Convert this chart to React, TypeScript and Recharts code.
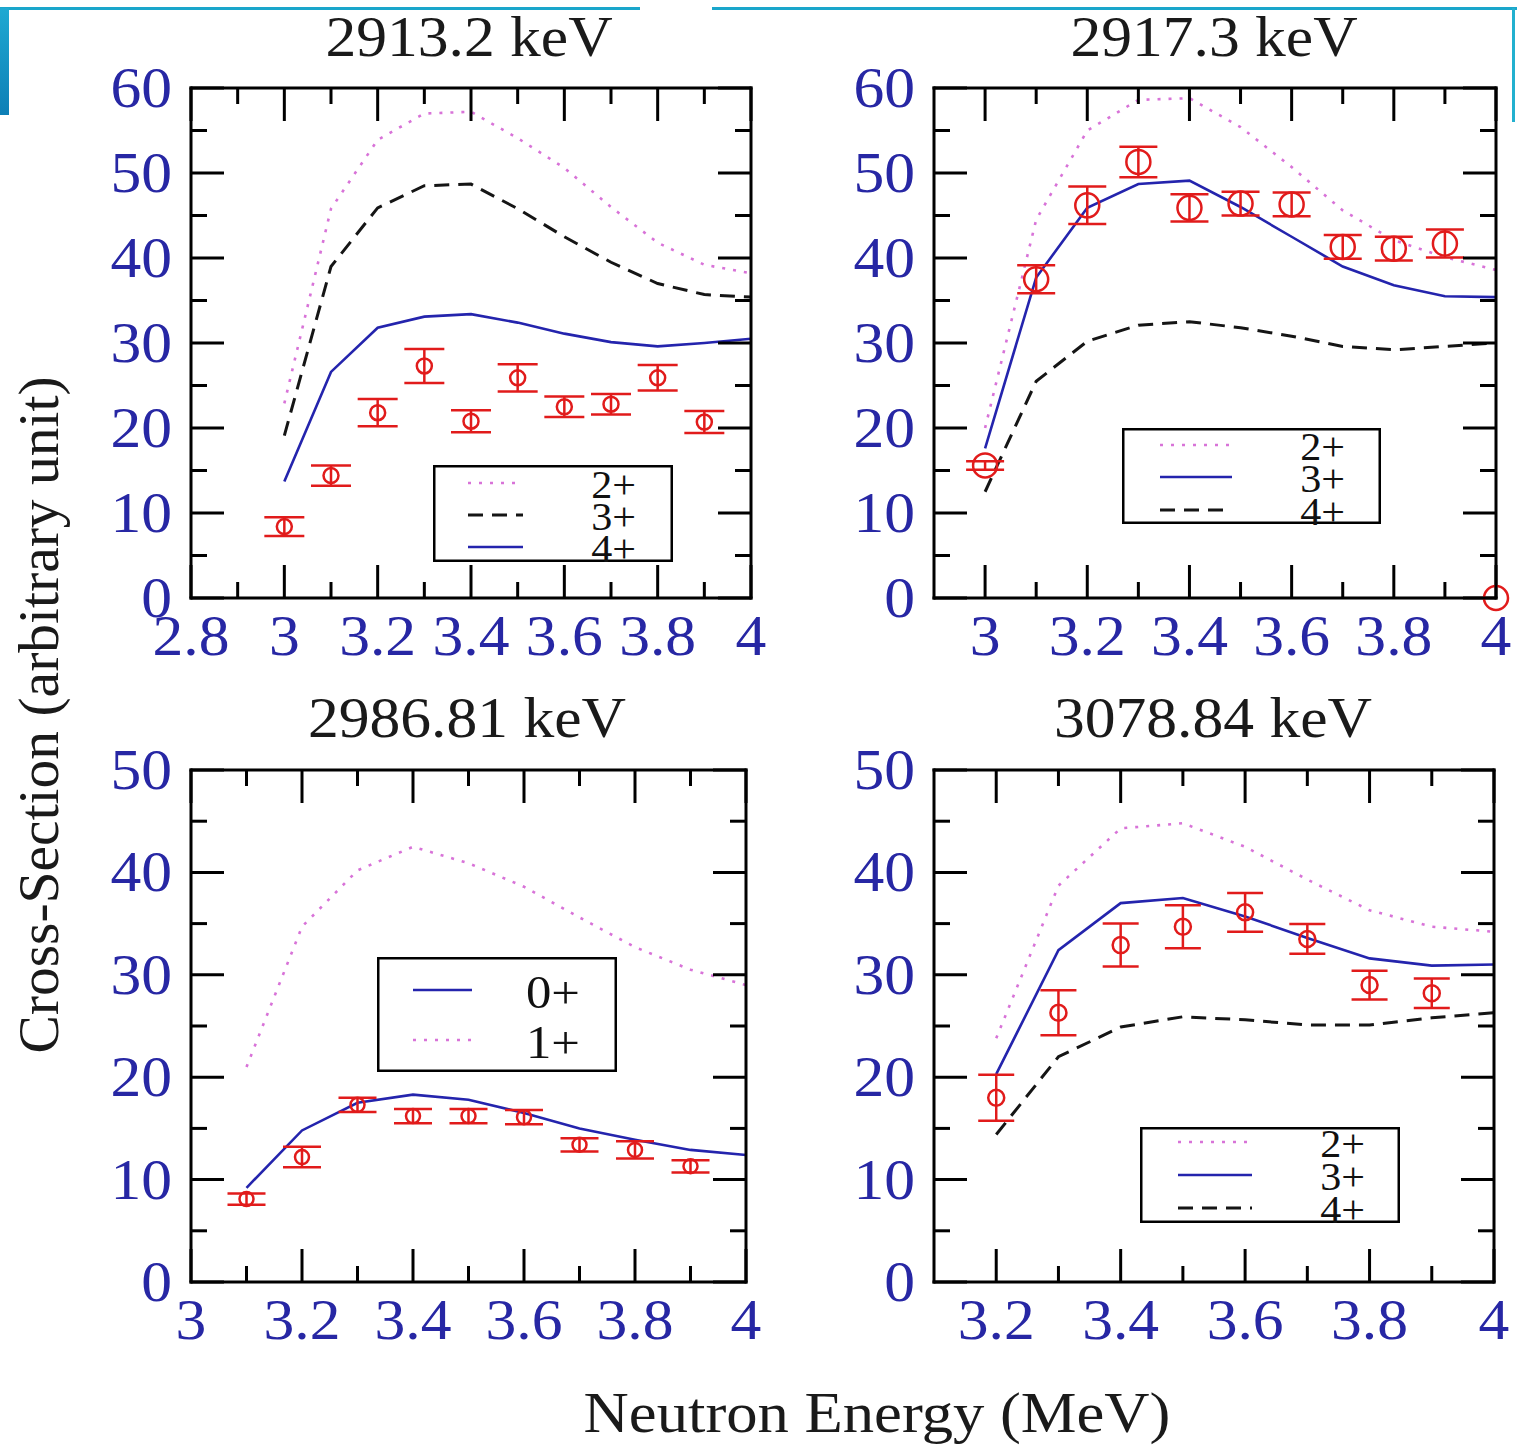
import React from 'react';
import { ComposedChart, Line, Scatter, XAxis, YAxis, ErrorBar, Legend } from 'recharts';

const FONT = '"Liberation Serif", "Times New Roman", serif';
const TICK_BLUE = '#2727a4';
const RED = '#e11b1b';
const PINK = '#d873d8';
const LINE_BLUE = '#2424ad';
const DASH_BLACK = '#151515';

// ---------- Panel 1 : 2913.2 keV ----------
const P1_X = [3.0, 3.1, 3.2, 3.3, 3.4, 3.5, 3.6, 3.7, 3.8, 3.9, 4.0];
const P1_2PLUS = [22.9, 45.8, 53.9, 57.0, 57.2, 54.1, 50.6, 46.0, 41.8, 39.2, 38.2];
const P1_3PLUS = [19.1, 39.0, 45.9, 48.5, 48.7, 45.8, 42.5, 39.5, 37.0, 35.7, 35.4];
const P1_4PLUS = [13.7, 26.6, 31.8, 33.1, 33.4, 32.4, 31.1, 30.1, 29.6, 30.0, 30.5];
const P1_EXP_X = [3.0, 3.1, 3.2, 3.3, 3.4, 3.5, 3.6, 3.7, 3.8, 3.9];
const P1_EXP_Y = [8.4, 14.4, 21.8, 27.3, 20.8, 25.9, 22.5, 22.8, 25.9, 20.7];
const P1_EXP_ERR = [1.1, 1.2, 1.6, 2.0, 1.3, 1.6, 1.2, 1.2, 1.5, 1.3];

// ---------- Panel 2 : 2917.3 keV ----------
const P2_X = [3.0, 3.1, 3.2, 3.3, 3.4, 3.5, 3.6, 3.7, 3.8, 3.9, 4.0];
const P2_2PLUS = [20.0, 44.5, 55.0, 58.6, 58.8, 55.4, 50.7, 45.6, 42.1, 40.1, 38.6];
const P2_3PLUS = [17.6, 37.7, 45.9, 48.7, 49.1, 46.0, 42.5, 39.0, 36.8, 35.5, 35.4];
const P2_4PLUS = [12.5, 25.5, 30.2, 32.1, 32.5, 31.8, 30.8, 29.6, 29.2, 29.6, 30.0];
const P2_EXP_X = [3.0, 3.1, 3.2, 3.3, 3.4, 3.5, 3.6, 3.7, 3.8, 3.9];
const P2_EXP_Y = [15.6, 37.5, 46.2, 51.3, 45.9, 46.4, 46.3, 41.3, 41.1, 41.7];
const P2_EXP_ERR = [0.5, 1.65, 2.2, 1.8, 1.6, 1.4, 1.4, 1.4, 1.4, 1.65];
const P2_EXTRA_X = [4.0];
const P2_EXTRA_Y = [0];

// ---------- Panel 3 : 2986.81 keV ----------
const P3_X = [3.1, 3.2, 3.3, 3.4, 3.5, 3.6, 3.7, 3.8, 3.9, 4.0];
const P3_0PLUS = [9.2, 14.8, 17.5, 18.3, 17.8, 16.5, 15.0, 13.9, 12.9, 12.4];
const P3_1PLUS = [21.0, 34.7, 40.2, 42.5, 40.9, 38.6, 35.6, 32.7, 30.5, 29.0];
const P3_EXP_X = [3.1, 3.2, 3.3, 3.4, 3.5, 3.6, 3.7, 3.8, 3.9];
const P3_EXP_Y = [8.1, 12.2, 17.3, 16.2, 16.2, 16.1, 13.4, 12.9, 11.3];
const P3_EXP_ERR = [0.55, 1.0, 0.7, 0.7, 0.7, 0.7, 0.65, 0.85, 0.6];

// ---------- Panel 4 : 3078.84 keV ----------
const P4_X = [3.2, 3.3, 3.4, 3.5, 3.6, 3.7, 3.8, 3.9, 4.0];
const P4_2PLUS = [23.8, 38.7, 44.3, 44.8, 42.5, 39.3, 36.3, 34.7, 34.2];
const P4_3PLUS = [20.3, 32.4, 37.0, 37.5, 35.7, 33.6, 31.6, 30.9, 31.0];
const P4_4PLUS = [14.4, 22.0, 24.9, 25.9, 25.6, 25.1, 25.1, 25.8, 26.3];
const P4_EXP_X = [3.2, 3.3, 3.4, 3.5, 3.6, 3.7, 3.8, 3.9];
const P4_EXP_Y = [18.0, 26.3, 32.9, 34.7, 36.1, 33.5, 29.0, 28.2];
const P4_EXP_ERR = [2.25, 2.2, 2.1, 2.1, 1.9, 1.45, 1.4, 1.45];

// ---------- ticks / labels ----------
const X_TICKS_P1 = [2.8, 2.9, 3.0, 3.1, 3.2, 3.3, 3.4, 3.5, 3.6, 3.7, 3.8, 3.9, 4.0];
const X_TICKS_P2 = [3.0, 3.1, 3.2, 3.3, 3.4, 3.5, 3.6, 3.7, 3.8, 3.9, 4.0];
const X_TICKS_P3 = [3.0, 3.1, 3.2, 3.3, 3.4, 3.5, 3.6, 3.7, 3.8, 3.9, 4.0];
const X_TICKS_P4 = [3.2, 3.3, 3.4, 3.5, 3.6, 3.7, 3.8, 3.9, 4.0];
const Y_TICKS_60 = [0, 5, 10, 15, 20, 25, 30, 35, 40, 45, 50, 55, 60];
const Y_TICKS_50 = [0, 5, 10, 15, 20, 25, 30, 35, 40, 45, 50];

const TITLES = ['2913.2 keV', '2917.3 keV', '2986.81 keV', '3078.84 keV'];
const X_LABEL = 'Neutron Energy (MeV)';
const Y_LABEL = 'Cross-Section (arbitrary unit)';

// ---------- styles ----------
const LINE_STYLES: Record<string, any> = {
  dot: { stroke: PINK, strokeWidth: 2.6, strokeDasharray: '3 8' },
  dash: { stroke: DASH_BLACK, strokeWidth: 3, strokeDasharray: '15 9' },
  solid: { stroke: LINE_BLUE, strokeWidth: 2.6 },
};
const MAJOR = 33;
const MINOR = 16;
const TICK_FS = 57;
const SX = 1.08;
const AXIS_LINE = { stroke: '#000', strokeWidth: 3, strokeLinecap: 'square' };

const fmt = (v: number) => String(Math.round(v * 10) / 10);
const isMajorX = (v: number) => Math.round(v * 10) % 2 === 0;
const isMajorY = (v: number) => Math.round(v) % 10 === 0;

const makeTick = (side: 'bottom' | 'top' | 'left' | 'right') => (props: any) => {
  const { x, y, payload } = props;
  const v = payload.value as number;
  const major = side === 'bottom' || side === 'top' ? isMajorX(v) : isMajorY(v);
  const len = major ? MAJOR : MINOR;
  let line;
  if (side === 'bottom') line = <line x1={x} y1={y} x2={x} y2={y - len} stroke="#000" strokeWidth={3} />;
  else if (side === 'top') line = <line x1={x} y1={y} x2={x} y2={y + len} stroke="#000" strokeWidth={3} />;
  else if (side === 'left') line = <line x1={x} y1={y} x2={x + len} y2={y} stroke="#000" strokeWidth={3} />;
  else line = <line x1={x} y1={y} x2={x - len} y2={y} stroke="#000" strokeWidth={3} />;
  let label = null;
  if (major && side === 'bottom') {
    label = (
      <text transform={`translate(${x},${y + 57}) scale(${SX},1)`} textAnchor="middle" fontFamily={FONT} fontSize={TICK_FS} fill={TICK_BLUE}>
        {fmt(v)}
      </text>
    );
  } else if (major && side === 'left') {
    label = (
      <text transform={`translate(${x - 19},${y + 19}) scale(${SX},1)`} textAnchor="end" fontFamily={FONT} fontSize={TICK_FS} fill={TICK_BLUE}>
        {fmt(v)}
      </text>
    );
  }
  return (
    <g>
      {line}
      {label}
    </g>
  );
};

const BottomTick = makeTick('bottom');
const TopTick = makeTick('top');
const LeftTick = makeTick('left');
const RightTick = makeTick('right');

type Series = { key: string; label: string; values: number[]; style: string };

const PANELS = [
  {
    title: TITLES[0],
    plot: { x: 191, y: 88, w: 560, h: 510 },
    xDomain: [2.8, 4],
    xTicks: X_TICKS_P1,
    yDomain: [0, 60],
    yTicks: Y_TICKS_60,
    lineX: P1_X,
    series: [
      { key: 's2', label: '2+', values: P1_2PLUS, style: 'dot' },
      { key: 's3', label: '3+', values: P1_3PLUS, style: 'dash' },
      { key: 's4', label: '4+', values: P1_4PLUS, style: 'solid' },
    ] as Series[],
    exp: { x: P1_EXP_X, y: P1_EXP_Y, err: P1_EXP_ERR, r: 7.5, cap: 20 },
    extra: null as any,
    legend: { x: 433, y: 465, w: 240, h: 97, lx1: 35, lx2: 90, labelRight: 203, rows: [18, 50, 82], fs: 39 },
  },
  {
    title: TITLES[1],
    plot: { x: 934, y: 88, w: 562, h: 510 },
    xDomain: [2.9, 4],
    xTicks: X_TICKS_P2,
    yDomain: [0, 60],
    yTicks: Y_TICKS_60,
    lineX: P2_X,
    series: [
      { key: 's2', label: '2+', values: P2_2PLUS, style: 'dot' },
      { key: 's3', label: '3+', values: P2_3PLUS, style: 'solid' },
      { key: 's4', label: '4+', values: P2_4PLUS, style: 'dash' },
    ] as Series[],
    exp: { x: P2_EXP_X, y: P2_EXP_Y, err: P2_EXP_ERR, r: 12, cap: 19 },
    extra: { x: P2_EXTRA_X, y: P2_EXTRA_Y, r: 12 },
    legend: { x: 1122, y: 428, w: 259, h: 96, lx1: 38, lx2: 110, labelRight: 223, rows: [17, 49, 82], fs: 39 },
  },
  {
    title: TITLES[2],
    plot: { x: 191, y: 770, w: 555, h: 512 },
    xDomain: [3, 4],
    xTicks: X_TICKS_P3,
    yDomain: [0, 50],
    yTicks: Y_TICKS_50,
    lineX: P3_X,
    series: [
      { key: 's0', label: '0+', values: P3_0PLUS, style: 'solid' },
      { key: 's1', label: '1+', values: P3_1PLUS, style: 'dot' },
    ] as Series[],
    exp: { x: P3_EXP_X, y: P3_EXP_Y, err: P3_EXP_ERR, r: 7, cap: 19 },
    extra: null as any,
    legend: { x: 377, y: 957, w: 240, h: 115, lx1: 36, lx2: 95, labelRight: 203, rows: [33, 83], fs: 47 },
  },
  {
    title: TITLES[3],
    plot: { x: 934, y: 770, w: 560, h: 512 },
    xDomain: [3.1, 4],
    xTicks: X_TICKS_P4,
    yDomain: [0, 50],
    yTicks: Y_TICKS_50,
    lineX: P4_X,
    series: [
      { key: 's2', label: '2+', values: P4_2PLUS, style: 'dot' },
      { key: 's3', label: '3+', values: P4_3PLUS, style: 'solid' },
      { key: 's4', label: '4+', values: P4_4PLUS, style: 'dash' },
    ] as Series[],
    exp: { x: P4_EXP_X, y: P4_EXP_Y, err: P4_EXP_ERR, r: 8, cap: 18 },
    extra: null as any,
    legend: { x: 1140, y: 1127, w: 260, h: 96, lx1: 38, lx2: 112, labelRight: 225, rows: [15, 48, 81], fs: 39 },
  },
];

const LegendBox = ({ series, lg }: { series: Series[]; lg: any }) => (
  <svg width={lg.w} height={lg.h} style={{ display: 'block', overflow: 'visible' }}>
    <rect x={1.25} y={1.25} width={lg.w - 2.5} height={lg.h - 2.5} fill="#fff" stroke="#000" strokeWidth={2.5} />
    {series.map((s, i) => (
      <g key={s.key}>
        <line x1={lg.lx1} x2={lg.lx2} y1={lg.rows[i]} y2={lg.rows[i]} {...LINE_STYLES[s.style]} />
        <text
          transform={`translate(${lg.labelRight},${lg.rows[i] + lg.fs * 0.34 + 2}) scale(${SX},1)`}
          textAnchor="end"
          fontFamily={FONT}
          fontSize={lg.fs}
          fill="#111"
        >
          {s.label}
        </text>
      </g>
    ))}
  </svg>
);

function Panel({ cfg }: { cfg: (typeof PANELS)[number] }) {
  const { plot } = cfg;
  const L = 120, T = 40, R = 20, B = 80;
  const width = plot.w + L + R;
  const height = plot.h + T + B;
  const chartLeft = plot.x - L;
  const chartTop = plot.y - T;
  const rows = cfg.lineX.map((x, i) => {
    const r: any = { x };
    cfg.series.forEach((s) => (r[s.key] = s.values[i]));
    return r;
  });
  const pts = cfg.exp.x.map((x, i) => ({ x, y: cfg.exp.y[i], err: cfg.exp.err[i] }));
  const extraPts = cfg.extra ? cfg.extra.x.map((x: number, i: number) => ({ x, y: cfg.extra.y[i] })) : [];
  const lg = cfg.legend;
  return (
    <div style={{ position: 'absolute', left: chartLeft, top: chartTop }}>
      <ComposedChart width={width} height={height} data={rows} margin={{ top: 0, right: 0, bottom: 0, left: 0 }}>
        <XAxis
          type="number"
          dataKey="x"
          orientation="bottom"
          domain={cfg.xDomain}
          ticks={cfg.xTicks}
          interval={0}
          height={B}
          tickSize={0}
          tickMargin={0}
          tickLine={false}
          axisLine={AXIS_LINE}
          tick={BottomTick}
        />
        <XAxis
          xAxisId="top"
          type="number"
          dataKey="x"
          orientation="top"
          domain={cfg.xDomain}
          ticks={cfg.xTicks}
          interval={0}
          height={T}
          tickSize={0}
          tickMargin={0}
          tickLine={false}
          axisLine={AXIS_LINE}
          tick={TopTick}
          allowDataOverflow
        />
        <YAxis
          type="number"
          orientation="left"
          domain={cfg.yDomain}
          ticks={cfg.yTicks}
          interval={0}
          width={L}
          tickSize={0}
          tickMargin={0}
          tickLine={false}
          axisLine={AXIS_LINE}
          tick={LeftTick}
        />
        <YAxis
          yAxisId="right"
          type="number"
          orientation="right"
          domain={cfg.yDomain}
          ticks={cfg.yTicks}
          interval={0}
          width={R}
          tickSize={0}
          tickMargin={0}
          tickLine={false}
          axisLine={AXIS_LINE}
          tick={RightTick}
          allowDataOverflow
        />
        {cfg.series.map((s) => (
          <Line
            key={s.key}
            type="linear"
            dataKey={s.key}
            name={s.label}
            dot={false}
            activeDot={false}
            isAnimationActive={false}
            {...LINE_STYLES[s.style]}
          />
        ))}
        <Line
          xAxisId="top"
          yAxisId="right"
          dataKey={cfg.series[0].key}
          stroke="none"
          dot={false}
          activeDot={false}
          legendType="none"
          isAnimationActive={false}
        />
        <Scatter
          data={pts}
          dataKey="y"
          isAnimationActive={false}
          shape={(p: any) => <circle cx={p.cx} cy={p.cy} r={cfg.exp.r} fill="none" stroke={RED} strokeWidth={2.5} />}
        >
          <ErrorBar dataKey="err" direction="y" width={cfg.exp.cap} stroke={RED} strokeWidth={2.5} isAnimationActive={false} />
        </Scatter>
        {cfg.extra && (
          <Scatter
            data={extraPts}
            dataKey="y"
            isAnimationActive={false}
            shape={(p: any) => <circle cx={p.cx} cy={p.cy} r={cfg.extra.r} fill="none" stroke={RED} strokeWidth={2.5} />}
          />
        )}
        <Legend
          layout="horizontal"
          verticalAlign="middle"
          align="center"
          wrapperStyle={{ left: lg.x - chartLeft, top: lg.y - chartTop, width: lg.w, height: lg.h, margin: 0, padding: 0 }}
          content={() => <LegendBox series={cfg.series} lg={lg} />}
        />
      </ComposedChart>
    </div>
  );
}

const TITLE_POS = [
  { cx: 469, base: 56 },
  { cx: 1214, base: 56 },
  { cx: 467, base: 737 },
  { cx: 1213, base: 737 },
];

export default function App() {
  return (
    <div style={{ position: 'absolute', left: 0, top: 0, width: 1517, height: 1445, overflow: 'hidden', background: '#fff' }}>
      <svg width={1517} height={1445} style={{ position: 'absolute', left: 0, top: 0 }}>
        <defs>
          <linearGradient id="cy" x1="0" y1="0" x2="0" y2="1">
            <stop offset="0" stopColor="#1fa9d2" />
            <stop offset="1" stopColor="#0d7fb6" />
          </linearGradient>
        </defs>
        <rect x={0} y={7} width={640} height={3} fill="#1aa6cb" />
        <rect x={712} y={7} width={805} height={3} fill="#1aa6cb" />
        <rect x={0} y={8} width={9} height={107} fill="url(#cy)" />
        <rect x={1512} y={8} width={3} height={114} fill="#22b0cf" />
        {PANELS.map((p, i) => (
          <text
            key={p.title}
            transform={`translate(${TITLE_POS[i].cx},${TITLE_POS[i].base}) scale(${SX},1)`}
            textAnchor="middle"
            fontFamily={FONT}
            fontSize={57}
            fill="#1a1a1a"
          >
            {p.title}
          </text>
        ))}
        <text transform={`translate(877,1432) scale(${SX},1)`} textAnchor="middle" fontFamily={FONT} fontSize={58} fill="#1a1a1a">
          {X_LABEL}
        </text>
        <text transform="translate(58,715) rotate(-90)" textAnchor="middle" fontFamily={FONT} fontSize={57.5} fill="#1a1a1a">
          {Y_LABEL}
        </text>
      </svg>
      {PANELS.map((p) => (
        <Panel key={p.title} cfg={p} />
      ))}
    </div>
  );
}
